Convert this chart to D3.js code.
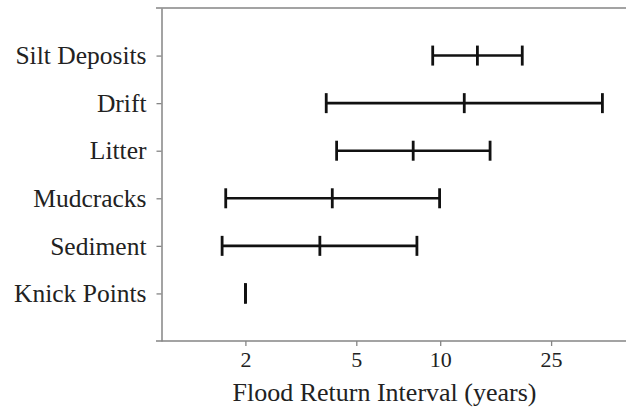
<!DOCTYPE html>
<html>
<head>
<meta charset="utf-8">
<script src="https://cdn.jsdelivr.net/npm/d3@7"></script>
<style>
  html, body { margin: 0; padding: 0; background: #fff; }
  svg { display: block; }
</style>
</head>
<body>
<svg id="chart" width="626" height="410"></svg>
<script>
const categories = ["Silt Deposits", "Drift", "Litter", "Mudcracks", "Sediment", "Knick Points"];
const minVals = [9.4, 3.9, 4.25, 1.7, 1.65, 2];
const medVals = [13.6, 12.2, 8.0, 4.1, 3.7, 2];
const maxVals = [19.7, 38.2, 15.1, 9.95, 8.25, 2];
const xTicks = [2, 5, 10, 25];
const xTitle = "Flood Return Interval (years)";

(function () {
const data = categories.map((c, i) => ({ cat: c, lo: minVals[i], med: medVals[i], hi: maxVals[i] }));

const svg = d3.select("#chart");
const mLeft = 161.5, mTop = 8, mBottom = 341, mRight = 635;
const axisColor = "#858585";
const font = "'Liberation Serif', 'Times New Roman', serif";

const x = d3.scaleLog().domain([1, 50]).range([mLeft, mRight]);
const y = d3.scalePoint().domain(categories).range([mTop, mBottom]).padding(1);

// frame
svg.append("line").attr("x1", mLeft - 5.5).attr("x2", 626).attr("y1", mTop).attr("y2", mTop)
  .attr("stroke", axisColor).attr("stroke-width", 1.5);
svg.append("line").attr("x1", mLeft - 5.5).attr("x2", 626).attr("y1", mBottom).attr("y2", mBottom)
  .attr("stroke", axisColor).attr("stroke-width", 1.5);

// y axis
const yAxis = svg.append("g").attr("transform", `translate(${mLeft},0)`)
  .call(d3.axisLeft(y).tickSize(5).tickSizeOuter(0).tickPadding(10));
yAxis.select(".domain").attr("stroke", axisColor).attr("stroke-width", 1.5);
yAxis.selectAll(".tick line").attr("stroke", axisColor).attr("stroke-width", 1.3);
yAxis.selectAll(".tick text").attr("font-family", font).attr("font-size", 25.5).attr("fill", "#222");

// x axis
const xAxis = svg.append("g").attr("transform", `translate(0,${mBottom})`)
  .call(d3.axisBottom(x).tickValues(xTicks).tickFormat(d3.format("d")).tickSize(5).tickSizeOuter(0).tickPadding(5));
xAxis.select(".domain").remove();
xAxis.selectAll(".tick line").attr("stroke", axisColor).attr("stroke-width", 1.3);
xAxis.selectAll(".tick text").attr("font-family", font).attr("font-size", 22).attr("fill", "#222");

svg.append("text").attr("x", 384.5).attr("y", 401).attr("text-anchor", "middle")
  .attr("font-family", font).attr("font-size", 26).attr("fill", "#222").text(xTitle);

// error bars
const g = svg.append("g");
const capH = 10;
g.selectAll("line.range").data(data).join("line").attr("class", "range")
  .attr("x1", d => x(d.lo)).attr("x2", d => x(d.hi))
  .attr("y1", d => y(d.cat)).attr("y2", d => y(d.cat))
  .attr("stroke", "#111").attr("stroke-width", 2.6);
["lo", "med", "hi"].forEach(k => {
  g.selectAll("line.cap-" + k).data(data).join("line").attr("class", "cap-" + k)
    .attr("x1", d => x(d[k])).attr("x2", d => x(d[k]))
    .attr("y1", d => y(d.cat) - capH).attr("y2", d => y(d.cat) + capH)
    .attr("stroke", "#111").attr("stroke-width", 2.8);
});
})();
</script>
</body>
</html>
